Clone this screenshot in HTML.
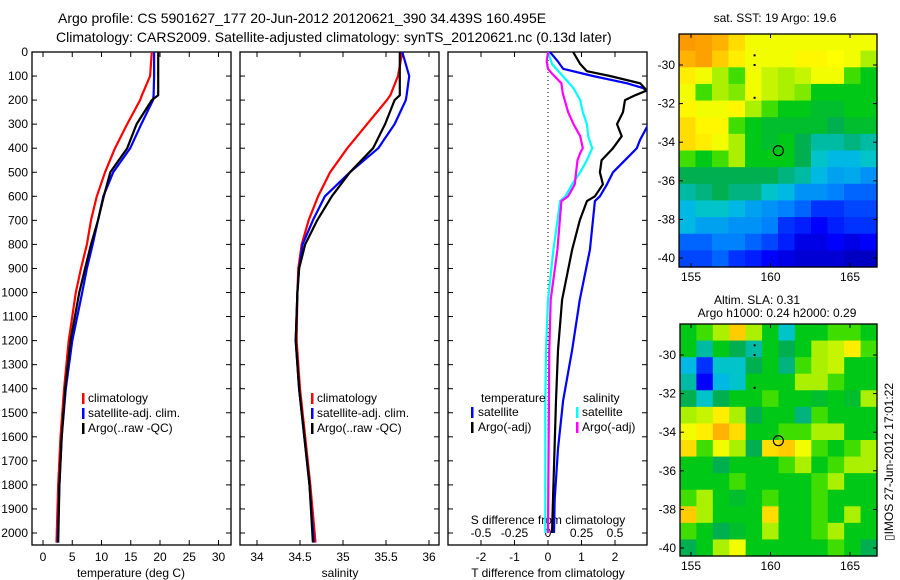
<!DOCTYPE html>
<html><head><meta charset="utf-8"><style>
html,body{margin:0;padding:0;background:#fff;}
svg{display:block;font-family:"Liberation Sans",sans-serif;}
text{font-size:12px;fill:#000;}
</style></head><body>
<svg id="fig" width="900" height="580" xmlns="http://www.w3.org/2000/svg">
<text x="58" y="23" text-anchor="start" style="font-size:14px">Argo profile: CS 5901627_177 20-Jun-2012 20120621_390 34.439S 160.495E</text>
<text x="56" y="42" text-anchor="start" style="font-size:14px">Climatology: CARS2009. Satellite-adjusted climatology: synTS_20120621.nc (0.13d later)</text>
<text x="775" y="22" text-anchor="middle">sat. SST: 19 Argo: 19.6</text>
<text x="757" y="304" text-anchor="middle">Altim. SLA: 0.31</text>
<text x="777" y="317" text-anchor="middle">Argo h1000: 0.24 h2000: 0.29</text>
<text x="0" y="0" transform="translate(893,462) rotate(-90)" text-anchor="middle">▯IMOS 27-Jun-2012 17:01:22</text>
<text x="327" y="517">Argo Australia</text>
<text x="327" y="531">PI: Susan Wijffels</text>
</svg>
<script>
// ---------- data ----------
const depthTicks = [0,100,200,300,400,500,600,700,800,900,1000,1100,1200,1300,1400,1500,1600,1700,1800,1900,2000];
const tempTicks = [0,5,10,15,20,25,30];
const salTicks = [34,34.5,35,35.5,36];
const salTickLabels = ["34","34.5","35","35.5","36"];
const dTTicks = [-2,-1,0,1,2];
const dSTicks = [-0.5,-0.25,0,0.25,0.5];
const dSTickLabels = ["-0.5","-0.25","0","0.25","0.5"];

const depthTS = [0,100,180,200,300,400,500,600,700,800,900,1000,1200,1400,1600,1800,2040];
const tempClim = [18.6,18.3,16.9,16.6,14.4,12.3,10.6,9.2,8.2,7.5,6.5,5.6,4.4,3.6,3.0,2.6,2.3];
const tempSat  = [19.0,19.0,18.9,18.8,16.8,14.9,12.0,10.3,9.4,8.5,7.5,6.7,5.0,3.9,3.2,2.8,2.5];
const tempArgo = [19.7,19.7,19.7,18.6,16.0,14.4,11.5,10.4,9.4,8.2,7.2,6.2,4.7,3.8,3.2,2.8,2.6];
const salClim = [35.69,35.64,35.55,35.51,35.28,35.05,34.85,34.71,34.60,34.52,34.48,34.47,34.46,34.50,34.56,34.62,34.68];
const salSat  = [35.69,35.77,35.74,35.73,35.60,35.41,35.08,34.79,34.65,34.53,34.49,34.47,34.45,34.49,34.55,34.61,34.66];
const salArgo = [35.66,35.66,35.66,35.60,35.49,35.35,35.08,34.87,34.70,34.56,34.49,34.47,34.45,34.49,34.55,34.61,34.65];

const depthDTArgo = [0,50,80,100,130,160,180,200,250,300,350,400,450,500,550,600,620,700,823,1030,1240,1450,1860,2000];
const dTArgo = [0.75,0.96,1.16,1.85,2.75,2.95,2.6,2.3,2.24,2.06,2.2,1.94,1.6,1.55,1.64,1.4,1.16,0.95,0.72,0.42,0.3,0.24,0.15,0.12];
const depthDTSat = [0,40,70,100,130,150,170,230,300,365,400,450,500,550,600,620,823,1030,1240,1450,1650,1860,2000];
const dTSat = [0.06,0.3,0.45,1.34,2.36,2.84,3.0,3.0,3.0,2.75,2.65,2.3,1.94,1.76,1.55,1.4,1.25,0.95,0.72,0.45,0.3,0.2,0.18];
const depthDSSat = [0,50,100,150,200,250,300,350,400,450,500,550,600,620,823,1030,1240,1450,2000];
const dSSat = [0,0.03,0.11,0.19,0.24,0.26,0.29,0.30,0.33,0.29,0.24,0.18,0.13,0.09,0.04,0,-0.015,-0.02,-0.02];
const depthDSArgo = [0,40,70,90,130,170,250,300,350,400,420,450,500,550,600,620,823,1030,1240,2000];
const dSArgo = [0,-0.01,0,0.03,0.1,0.11,0.15,0.19,0.24,0.26,0.24,0.22,0.21,0.2,0.15,0.1,0.07,0.02,0.01,0];

const lonTicks = [155,160,165];
const latTicks = [-30,-32,-34,-36,-38,-40];
const sstGrid = [
[0.8,0.78,0.75,0.7,0.65,0.65,0.65,0.65,0.65,0.65,0.65,0.65],
[0.75,0.78,0.72,0.68,0.65,0.65,0.65,0.67,0.67,0.66,0.65,0.6],
[0.68,0.65,0.6,0.55,0.65,0.62,0.6,0.62,0.65,0.65,0.55,0.5],
[0.65,0.55,0.6,0.58,0.65,0.62,0.6,0.58,0.5,0.5,0.5,0.5],
[0.67,0.65,0.65,0.67,0.6,0.55,0.5,0.5,0.48,0.48,0.5,0.5],
[0.7,0.67,0.67,0.55,0.5,0.48,0.48,0.48,0.48,0.45,0.48,0.48],
[0.7,0.68,0.65,0.6,0.5,0.48,0.5,0.45,0.4,0.4,0.42,0.4],
[0.55,0.5,0.55,0.6,0.5,0.5,0.5,0.45,0.38,0.35,0.35,0.38],
[0.45,0.45,0.45,0.45,0.45,0.45,0.42,0.4,0.35,0.32,0.33,0.3],
[0.4,0.42,0.45,0.42,0.42,0.38,0.35,0.3,0.3,0.28,0.25,0.25],
[0.35,0.38,0.38,0.35,0.32,0.3,0.28,0.25,0.2,0.2,0.22,0.22],
[0.35,0.32,0.32,0.3,0.3,0.28,0.2,0.18,0.15,0.18,0.2,0.2],
[0.25,0.25,0.28,0.28,0.25,0.22,0.18,0.12,0.12,0.15,0.12,0.15],
[0.22,0.22,0.25,0.2,0.18,0.15,0.12,0.1,0.1,0.1,0.08,0.08]];
const slaGrid = [
[0.5,0.55,0.6,0.72,0.6,0.5,0.38,0.5,0.5,0.55,0.55,0.5],
[0.5,0.4,0.5,0.45,0.4,0.5,0.45,0.5,0.6,0.62,0.68,0.55],
[0.35,0.2,0.38,0.38,0.45,0.5,0.42,0.55,0.6,0.62,0.5,0.5],
[0.4,0.15,0.35,0.38,0.5,0.5,0.5,0.6,0.6,0.55,0.5,0.5],
[0.45,0.38,0.45,0.5,0.5,0.55,0.5,0.5,0.48,0.5,0.48,0.6],
[0.6,0.62,0.68,0.6,0.45,0.5,0.5,0.42,0.55,0.5,0.5,0.5],
[0.65,0.68,0.75,0.7,0.5,0.5,0.55,0.55,0.6,0.6,0.5,0.5],
[0.7,0.55,0.65,0.6,0.45,0.7,0.72,0.65,0.55,0.5,0.55,0.6],
[0.5,0.5,0.45,0.5,0.5,0.5,0.55,0.6,0.5,0.55,0.6,0.6],
[0.5,0.5,0.5,0.55,0.5,0.5,0.5,0.5,0.55,0.6,0.5,0.5],
[0.55,0.6,0.5,0.48,0.5,0.55,0.5,0.5,0.55,0.5,0.5,0.5],
[0.72,0.6,0.5,0.5,0.5,0.7,0.5,0.5,0.55,0.5,0.6,0.5],
[0.55,0.5,0.45,0.48,0.5,0.6,0.5,0.5,0.55,0.6,0.5,0.5],
[0.45,0.5,0.6,0.65,0.5,0.5,0.5,0.5,0.5,0.55,0.5,0.45]];
const argoLon = 160.495;
const argoLat = -34.439;

// ---------- helpers ----------
const NS = "http://www.w3.org/2000/svg";
const svg = document.getElementById('fig');
function mk(tag, attrs, parent){ const e=document.createElementNS(NS,tag); for(const k in attrs) e.setAttribute(k,attrs[k]); (parent||svg).appendChild(e); return e; }
function txt(x,y,s,anchor,parent){ const t=mk('text',{x:x,y:y,'text-anchor':anchor||'middle'},parent); t.textContent=s; return t; }

const TOP=52, BOT=545;
const yD = d => TOP + d*0.2405;
const panels = [
  {name:'temperature', x0:32, x1:231, xf: v=>43+5.85*v},
  {name:'salinity', x0:240, x1:439, xf: v=>257+86*(v-34)},
  {name:'difference', x0:448, x1:647, xf: v=>548+33.5*v}
];
const xS = v => 548 + 134*v;

function drawLine(g, depths, vals, xf, color, name, w){
  let p='';
  for(let i=0;i<depths.length;i++){ p += (i?'L':'M') + xf(vals[i]).toFixed(1)+','+yD(depths[i]).toFixed(1); }
  const e = mk('path',{d:p,fill:'none',stroke:color,'stroke-width':w||2.2,'stroke-linejoin':'round'},g);
  
  
  return e;
}

const defs = mk('defs',{});
panels.forEach((p,i)=>{ const c=mk('clipPath',{id:'clip'+i},defs); mk('rect',{x:p.x0,y:TOP,width:p.x1-p.x0,height:BOT-TOP},c); });

panels.forEach((p,i)=>{
  const g = mk('g',{});
  
  
  const box = mk('rect',{x:p.x0,y:TOP,width:p.x1-p.x0,height:BOT-TOP,fill:'#fff',stroke:'#000','stroke-width':1.3},g);
  
  
  depthTicks.forEach(d=>{
    const y=yD(d);
    mk('line',{x1:p.x0,x2:p.x0+5,y1:y,y2:y,stroke:'#000'},g);
    mk('line',{x1:p.x1-5,x2:p.x1,y1:y,y2:y,stroke:'#000'},g);
    if(i===0){ const t=txt(28,y+4,String(d),'end',g);   }
  });
});

function xticks(vals, labels, xf, ylab){
  vals.forEach((v,k)=>{
    const x=xf(v);
    mk('line',{x1:x,x2:x,y1:TOP,y2:TOP+5,stroke:'#000'});
    mk('line',{x1:x,x2:x,y1:BOT-5,y2:BOT,stroke:'#000'});
    const t=txt(x,ylab,labels[k]);
    
    
  });
}
xticks(tempTicks, tempTicks.map(String), panels[0].xf, 561);
xticks(salTicks, salTickLabels, panels[1].xf, 561);
xticks(dTTicks, dTTicks.map(String), panels[2].xf, 561);
dSTicks.forEach((v,k)=>{ const t=txt(xS(v),537,dSTickLabels[k]);   });

let t;
t=txt(131,577,'temperature (deg C)');  
t=txt(340,577,'salinity');  
t=txt(548,577,'T difference from climatology');  
t=txt(548,524,'S difference from climatology');  

mk('line',{x1:548,x2:548,y1:TOP,y2:BOT,stroke:'#000','stroke-dasharray':'1,3'});

const g0=mk('g',{'clip-path':'url(#clip0)'});
drawLine(g0, depthTS, tempClim, panels[0].xf, '#ff0000','temp-climatology-line');
drawLine(g0, depthTS, tempSat, panels[0].xf, '#0000ff','temp-satellite-line');
drawLine(g0, depthTS, tempArgo, panels[0].xf, '#000000','temp-argo-line');
const g1=mk('g',{'clip-path':'url(#clip1)'});
drawLine(g1, depthTS, salClim, panels[1].xf, '#ff0000','sal-climatology-line');
drawLine(g1, depthTS, salSat, panels[1].xf, '#0000ff','sal-satellite-line');
drawLine(g1, depthTS, salArgo, panels[1].xf, '#000000','sal-argo-line');
const g2=mk('g',{'clip-path':'url(#clip2)'});
drawLine(g2, depthDSSat, dSSat, xS, '#00ffff','s-diff-satellite-line');
drawLine(g2, depthDSArgo, dSArgo, xS, '#ff00ff','s-diff-argo-line');
drawLine(g2, depthDTSat, dTSat, panels[2].xf, '#0000ff','t-diff-satellite-line');
drawLine(g2, depthDTArgo, dTArgo, panels[2].xf, '#000000','t-diff-argo-line');

function legendEntry(mx, tx, y, color, label){
  const r=mk('rect',{x:mx,y:y-9,width:2.5,height:11,fill:color});
  
  
  const tt=txt(tx,y,label,'start');
  
  
}
[[0,82,88],[1,311,317]].forEach(([i,mx,tx])=>{
  legendEntry(mx,tx,402,'#ff0000','climatology');
  legendEntry(mx,tx,417,'#0000ff','satellite-adj. clim.');
  legendEntry(mx,tx,432,'#000000','Argo(..raw -QC)');
});
t=txt(481,402,'temperature','start');  
t=txt(583,402,'salinity','start');  
legendEntry(471,478,416,'#0000ff','satellite');
legendEntry(471,478,431,'#000000','Argo(-adj)');
legendEntry(576,582,416,'#00ffff','satellite');
legendEntry(576,582,431,'#ff00ff','Argo(-adj)');

// ---------- maps ----------
const cmapStops = [[0,[0,0,128]],[0.15,[0,0,255]],[0.28,[0,130,255]],[0.37,[0,200,220]],[0.44,[0,170,90]],[0.52,[0,210,0]],[0.6,[170,240,0]],[0.66,[255,255,0]],[0.76,[255,170,0]],[0.9,[240,110,0]],[1,[200,0,0]]];
function cmap(v){
  for(let i=1;i<cmapStops.length;i++){
    if(v<=cmapStops[i][0]){ const [a,ca]=cmapStops[i-1],[b,cb]=cmapStops[i]; const f=(v-a)/(b-a);
      return 'rgb('+ca.map((c,k)=>Math.round(c+(cb[k]-c)*f)).join(',')+')'; }
  }
  return 'rgb(200,0,0)';
}
const lonX = lon => 691 + (lon-155)*15.9;
function drawMap(grid, x0, y0, x1, y1, lat30y, name){
  const g=mk('g',{});
  
  
  const rows=grid.length, cols=grid[0].length;
  const cw=(x1-x0)/cols, ch=(y1-y0)/rows;
  grid.forEach((row,r)=>row.forEach((v,c)=>{
    const cell=mk('rect',{x:(x0+c*cw).toFixed(2),y:(y0+r*ch).toFixed(2),width:(cw+0.6).toFixed(2),height:(ch+0.6).toFixed(2),fill:cmap(v)},g);
    
    
  }));
  const latY = lat => lat30y + (-lat-30)*19.3;
  mk('rect',{x:x0,y:y0,width:x1-x0,height:y1-y0,fill:'none',stroke:'#000','stroke-width':1.3},g);
  lonTicks.forEach(l=>{ const x=lonX(l);
    mk('line',{x1:x,x2:x,y1:y0,y2:y0+4,stroke:'#000'},g); mk('line',{x1:x,x2:x,y1:y1-4,y2:y1,stroke:'#000'},g);
    const tl=txt(x,y1+14,String(l),'middle',g);   });
  latTicks.forEach(l=>{ const y=latY(l);
    mk('line',{x1:x0,x2:x0+4,y1:y,y2:y,stroke:'#000'},g); mk('line',{x1:x1-4,x2:x1,y1:y,y2:y,stroke:'#000'},g);
    const tl=txt(x0-4,y+4,String(l),'end',g);   });
  [[-29.5],[-30],[-31.7]].forEach(([la])=>mk('rect',{x:lonX(159)-1,y:latY(la)-1,width:2,height:2,fill:'#000'},g));
  const c=mk('circle',{cx:lonX(argoLon),cy:latY(argoLat),r:5,fill:'none',stroke:'#000','stroke-width':1.2},g);
  
  
}
drawMap(sstGrid, 679, 34, 877, 267, 65, 'sst-map');
drawMap(slaGrid, 680, 324, 877, 556, 355, 'sla-map');
</script>
</body></html>
